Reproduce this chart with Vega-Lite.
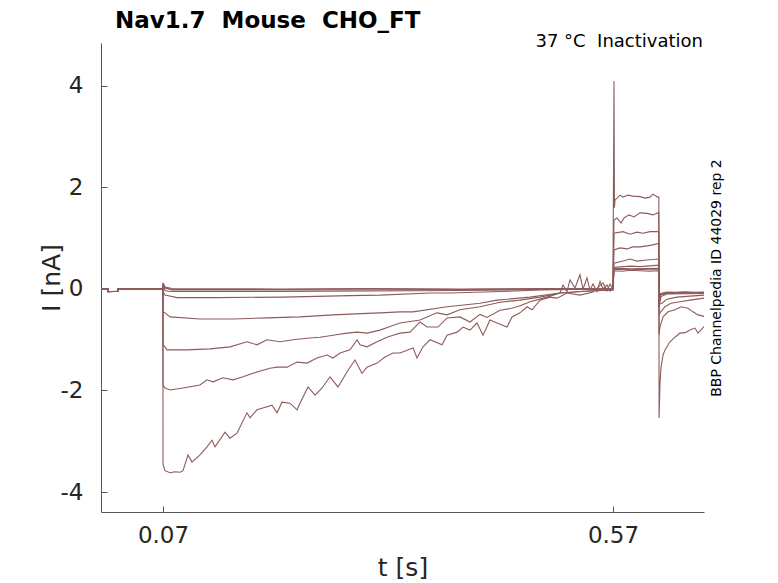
{
  "$schema": "https://vega.github.io/schema/vega-lite/v6.json",
  "width": 603,
  "height": 469,
  "autosize": {"type": "none"},
  "padding": {"left": 101, "top": 43, "right": 74, "bottom": 71},
  "background": "white",
  "config": {"view": {"stroke": null}, "font": "DejaVu Sans"},
  "title": {
    "text": "Nav1.7\u00a0 Mouse\u00a0 CHO_FT",
    "anchor": "start",
    "frame": "group",
    "font": "DejaVu Sans",
    "fontSize": 23,
    "fontWeight": "bold",
    "color": "black",
    "baseline": "alphabetic",
    "dx": 14,
    "offset": -18
  },
  "datasets": {
    "sweeps": [
      {"sweep": "A", "t": 0.0011, "I": 0}, {"sweep": "A", "t": 0.0088, "I": 0.01}, {"sweep": "A", "t": 0.0089, "I": -0.05}, {"sweep": "A", "t": 0.0199, "I": -0.05}, {"sweep": "A", "t": 0.02, "I": 0.01}, {"sweep": "A", "t": 0.0699, "I": 0},
      {"sweep": "A", "t": 0.07, "I": -3.45}, {"sweep": "A", "t": 0.0722, "I": -3.58}, {"sweep": "A", "t": 0.0778, "I": -3.62}, {"sweep": "A", "t": 0.0833, "I": -3.6},
      {"sweep": "A", "t": 0.0889, "I": -3.61}, {"sweep": "A", "t": 0.0922, "I": -3.58}, {"sweep": "A", "t": 0.0978, "I": -3.27}, {"sweep": "A", "t": 0.1022, "I": -3.41},
      {"sweep": "A", "t": 0.1111, "I": -3.27}, {"sweep": "A", "t": 0.1189, "I": -3.11}, {"sweep": "A", "t": 0.1244, "I": -2.98}, {"sweep": "A", "t": 0.1278, "I": -3.11},
      {"sweep": "A", "t": 0.1389, "I": -2.82}, {"sweep": "A", "t": 0.1444, "I": -2.94}, {"sweep": "A", "t": 0.1522, "I": -2.84}, {"sweep": "A", "t": 0.1633, "I": -2.44},
      {"sweep": "A", "t": 0.1667, "I": -2.54}, {"sweep": "A", "t": 0.1744, "I": -2.38}, {"sweep": "A", "t": 0.1856, "I": -2.32}, {"sweep": "A", "t": 0.1911, "I": -2.29},
      {"sweep": "A", "t": 0.1967, "I": -2.44}, {"sweep": "A", "t": 0.2022, "I": -2.23}, {"sweep": "A", "t": 0.2111, "I": -2.25}, {"sweep": "A", "t": 0.2189, "I": -2.38},
      {"sweep": "A", "t": 0.2222, "I": -2.25}, {"sweep": "A", "t": 0.2311, "I": -1.93}, {"sweep": "A", "t": 0.2389, "I": -2.09}, {"sweep": "A", "t": 0.2467, "I": -1.95},
      {"sweep": "A", "t": 0.2556, "I": -1.73}, {"sweep": "A", "t": 0.2644, "I": -1.93}, {"sweep": "A", "t": 0.2756, "I": -1.6}, {"sweep": "A", "t": 0.2833, "I": -1.4},
      {"sweep": "A", "t": 0.2911, "I": -1.66}, {"sweep": "A", "t": 0.2967, "I": -1.54}, {"sweep": "A", "t": 0.3078, "I": -1.46}, {"sweep": "A", "t": 0.3167, "I": -1.34},
      {"sweep": "A", "t": 0.3256, "I": -1.26}, {"sweep": "A", "t": 0.3333, "I": -1.26}, {"sweep": "A", "t": 0.3478, "I": -1.16}, {"sweep": "A", "t": 0.3522, "I": -1.36},
      {"sweep": "A", "t": 0.3589, "I": -1.14}, {"sweep": "A", "t": 0.3667, "I": -1.0}, {"sweep": "A", "t": 0.38, "I": -1.1}, {"sweep": "A", "t": 0.3856, "I": -0.91},
      {"sweep": "A", "t": 0.3967, "I": -0.85}, {"sweep": "A", "t": 0.4033, "I": -0.75}, {"sweep": "A", "t": 0.4111, "I": -0.81}, {"sweep": "A", "t": 0.4189, "I": -0.67},
      {"sweep": "A", "t": 0.4256, "I": -0.91}, {"sweep": "A", "t": 0.4333, "I": -0.61}, {"sweep": "A", "t": 0.4411, "I": -0.67}, {"sweep": "A", "t": 0.4522, "I": -0.75},
      {"sweep": "A", "t": 0.4578, "I": -0.55}, {"sweep": "A", "t": 0.4667, "I": -0.47}, {"sweep": "A", "t": 0.4744, "I": -0.35}, {"sweep": "A", "t": 0.48, "I": -0.41},
      {"sweep": "A", "t": 0.4889, "I": -0.22}, {"sweep": "A", "t": 0.5, "I": -0.16}, {"sweep": "A", "t": 0.5078, "I": -0.18}, {"sweep": "A", "t": 0.5189, "I": -0.08},
      {"sweep": "A", "t": 0.5333, "I": -0.12}, {"sweep": "A", "t": 0.5478, "I": -0.06}, {"sweep": "A", "t": 0.5589, "I": 0.12}, {"sweep": "A", "t": 0.5633, "I": -0.04},
      {"sweep": "A", "t": 0.5667, "I": 0.1}, {"sweep": "A", "t": 0.5699, "I": 0.0},
      {"sweep": "A", "t": 0.5711, "I": 0.36}, {"sweep": "A", "t": 0.58, "I": 0.35}, {"sweep": "A", "t": 0.59, "I": 0.37}, {"sweep": "A", "t": 0.6, "I": 0.36}, {"sweep": "A", "t": 0.61, "I": 0.35}, {"sweep": "A", "t": 0.6209, "I": 0.36},
      {"sweep": "A", "t": 0.6212, "I": -0.25}, {"sweep": "A", "t": 0.623, "I": -0.09}, {"sweep": "A", "t": 0.63, "I": -0.06}, {"sweep": "A", "t": 0.64, "I": -0.07}, {"sweep": "A", "t": 0.65, "I": -0.06}, {"sweep": "A", "t": 0.66, "I": -0.07}, {"sweep": "A", "t": 0.6711, "I": -0.06},

      {"sweep": "B", "t": 0.0011, "I": 0.01}, {"sweep": "B", "t": 0.0088, "I": 0}, {"sweep": "B", "t": 0.0089, "I": -0.06}, {"sweep": "B", "t": 0.0199, "I": -0.04}, {"sweep": "B", "t": 0.02, "I": 0}, {"sweep": "B", "t": 0.0699, "I": 0.01},
      {"sweep": "B", "t": 0.07, "I": -1.9}, {"sweep": "B", "t": 0.0722, "I": -1.95}, {"sweep": "B", "t": 0.0778, "I": -1.99}, {"sweep": "B", "t": 0.0922, "I": -1.95},
      {"sweep": "B", "t": 0.1111, "I": -1.89}, {"sweep": "B", "t": 0.1189, "I": -1.79}, {"sweep": "B", "t": 0.1256, "I": -1.83}, {"sweep": "B", "t": 0.1367, "I": -1.75},
      {"sweep": "B", "t": 0.1478, "I": -1.79}, {"sweep": "B", "t": 0.1589, "I": -1.73}, {"sweep": "B", "t": 0.17, "I": -1.66}, {"sweep": "B", "t": 0.1811, "I": -1.6},
      {"sweep": "B", "t": 0.1889, "I": -1.56}, {"sweep": "B", "t": 0.1967, "I": -1.54}, {"sweep": "B", "t": 0.2078, "I": -1.54}, {"sweep": "B", "t": 0.2189, "I": -1.44},
      {"sweep": "B", "t": 0.23, "I": -1.46}, {"sweep": "B", "t": 0.2411, "I": -1.36}, {"sweep": "B", "t": 0.2522, "I": -1.3}, {"sweep": "B", "t": 0.2589, "I": -1.36},
      {"sweep": "B", "t": 0.2667, "I": -1.26}, {"sweep": "B", "t": 0.2778, "I": -1.2}, {"sweep": "B", "t": 0.2856, "I": -1.0}, {"sweep": "B", "t": 0.2889, "I": -1.1},
      {"sweep": "B", "t": 0.2967, "I": -1.14}, {"sweep": "B", "t": 0.3078, "I": -1.04}, {"sweep": "B", "t": 0.3189, "I": -0.95}, {"sweep": "B", "t": 0.3256, "I": -0.91},
      {"sweep": "B", "t": 0.3333, "I": -0.87}, {"sweep": "B", "t": 0.3444, "I": -0.85}, {"sweep": "B", "t": 0.3556, "I": -0.65}, {"sweep": "B", "t": 0.3633, "I": -0.75},
      {"sweep": "B", "t": 0.3756, "I": -0.75}, {"sweep": "B", "t": 0.3856, "I": -0.57}, {"sweep": "B", "t": 0.4, "I": -0.55}, {"sweep": "B", "t": 0.4111, "I": -0.65},
      {"sweep": "B", "t": 0.4222, "I": -0.5}, {"sweep": "B", "t": 0.43, "I": -0.56}, {"sweep": "B", "t": 0.4444, "I": -0.42}, {"sweep": "B", "t": 0.4578, "I": -0.38},
      {"sweep": "B", "t": 0.4667, "I": -0.33}, {"sweep": "B", "t": 0.4778, "I": -0.25}, {"sweep": "B", "t": 0.4889, "I": -0.2}, {"sweep": "B", "t": 0.5, "I": -0.14},
      {"sweep": "B", "t": 0.5111, "I": -0.08}, {"sweep": "B", "t": 0.5144, "I": 0.08}, {"sweep": "B", "t": 0.5189, "I": -0.05}, {"sweep": "B", "t": 0.5222, "I": 0.18},
      {"sweep": "B", "t": 0.5278, "I": 0.02}, {"sweep": "B", "t": 0.5333, "I": 0.28}, {"sweep": "B", "t": 0.5367, "I": 0.0}, {"sweep": "B", "t": 0.5411, "I": 0.22},
      {"sweep": "B", "t": 0.5444, "I": -0.02}, {"sweep": "B", "t": 0.5478, "I": 0.1}, {"sweep": "B", "t": 0.5522, "I": -0.05}, {"sweep": "B", "t": 0.5556, "I": 0.15},
      {"sweep": "B", "t": 0.5589, "I": 0.0}, {"sweep": "B", "t": 0.5633, "I": 0.08}, {"sweep": "B", "t": 0.5667, "I": -0.04}, {"sweep": "B", "t": 0.5699, "I": 0.05},
      {"sweep": "B", "t": 0.5711, "I": 0.38}, {"sweep": "B", "t": 0.58, "I": 0.39}, {"sweep": "B", "t": 0.59, "I": 0.38}, {"sweep": "B", "t": 0.6, "I": 0.39}, {"sweep": "B", "t": 0.61, "I": 0.38}, {"sweep": "B", "t": 0.6209, "I": 0.38},
      {"sweep": "B", "t": 0.6212, "I": -0.3}, {"sweep": "B", "t": 0.623, "I": -0.1}, {"sweep": "B", "t": 0.63, "I": -0.07}, {"sweep": "B", "t": 0.65, "I": -0.06}, {"sweep": "B", "t": 0.6711, "I": -0.07},

      {"sweep": "C", "t": 0.0011, "I": 0}, {"sweep": "C", "t": 0.0088, "I": 0}, {"sweep": "C", "t": 0.0089, "I": -0.05}, {"sweep": "C", "t": 0.0199, "I": -0.05}, {"sweep": "C", "t": 0.02, "I": 0}, {"sweep": "C", "t": 0.0699, "I": 0},
      {"sweep": "C", "t": 0.07, "I": -1.1}, {"sweep": "C", "t": 0.0722, "I": -1.14}, {"sweep": "C", "t": 0.0744, "I": -1.2}, {"sweep": "C", "t": 0.0967, "I": -1.2},
      {"sweep": "C", "t": 0.1222, "I": -1.18}, {"sweep": "C", "t": 0.1444, "I": -1.14}, {"sweep": "C", "t": 0.1633, "I": -1.04}, {"sweep": "C", "t": 0.1744, "I": -1.1},
      {"sweep": "C", "t": 0.1856, "I": -1.0}, {"sweep": "C", "t": 0.2, "I": -1.04}, {"sweep": "C", "t": 0.2144, "I": -1.0}, {"sweep": "C", "t": 0.23, "I": -0.97},
      {"sweep": "C", "t": 0.2444, "I": -0.95}, {"sweep": "C", "t": 0.2589, "I": -0.91}, {"sweep": "C", "t": 0.2744, "I": -0.87}, {"sweep": "C", "t": 0.2856, "I": -0.85},
      {"sweep": "C", "t": 0.2967, "I": -0.87}, {"sweep": "C", "t": 0.3111, "I": -0.81}, {"sweep": "C", "t": 0.3222, "I": -0.74}, {"sweep": "C", "t": 0.3333, "I": -0.67},
      {"sweep": "C", "t": 0.3556, "I": -0.61}, {"sweep": "C", "t": 0.3744, "I": -0.47}, {"sweep": "C", "t": 0.3856, "I": -0.51}, {"sweep": "C", "t": 0.4, "I": -0.41},
      {"sweep": "C", "t": 0.4222, "I": -0.35}, {"sweep": "C", "t": 0.4444, "I": -0.26}, {"sweep": "C", "t": 0.4667, "I": -0.22}, {"sweep": "C", "t": 0.4889, "I": -0.16},
      {"sweep": "C", "t": 0.5111, "I": -0.08}, {"sweep": "C", "t": 0.5333, "I": -0.05}, {"sweep": "C", "t": 0.5556, "I": -0.03}, {"sweep": "C", "t": 0.5699, "I": -0.02},
      {"sweep": "C", "t": 0.5711, "I": 0.41}, {"sweep": "C", "t": 0.59, "I": 0.4}, {"sweep": "C", "t": 0.6209, "I": 0.41},
      {"sweep": "C", "t": 0.6212, "I": -0.28}, {"sweep": "C", "t": 0.623, "I": -0.11}, {"sweep": "C", "t": 0.63, "I": -0.08}, {"sweep": "C", "t": 0.6711, "I": -0.07},

      {"sweep": "D", "t": 0.0011, "I": 0}, {"sweep": "D", "t": 0.0088, "I": 0}, {"sweep": "D", "t": 0.0089, "I": -0.05}, {"sweep": "D", "t": 0.0199, "I": -0.05}, {"sweep": "D", "t": 0.02, "I": 0}, {"sweep": "D", "t": 0.0699, "I": 0},
      {"sweep": "D", "t": 0.07, "I": -0.45}, {"sweep": "D", "t": 0.0722, "I": -0.47}, {"sweep": "D", "t": 0.0778, "I": -0.55}, {"sweep": "D", "t": 0.1111, "I": -0.59},
      {"sweep": "D", "t": 0.1478, "I": -0.59}, {"sweep": "D", "t": 0.1856, "I": -0.57}, {"sweep": "D", "t": 0.2222, "I": -0.55}, {"sweep": "D", "t": 0.2589, "I": -0.51},
      {"sweep": "D", "t": 0.2967, "I": -0.48}, {"sweep": "D", "t": 0.3111, "I": -0.47}, {"sweep": "D", "t": 0.3333, "I": -0.45}, {"sweep": "D", "t": 0.3478, "I": -0.45},
      {"sweep": "D", "t": 0.3856, "I": -0.35}, {"sweep": "D", "t": 0.4222, "I": -0.28}, {"sweep": "D", "t": 0.4411, "I": -0.22}, {"sweep": "D", "t": 0.4778, "I": -0.16},
      {"sweep": "D", "t": 0.5111, "I": -0.08}, {"sweep": "D", "t": 0.5444, "I": -0.04}, {"sweep": "D", "t": 0.5699, "I": -0.02},
      {"sweep": "D", "t": 0.5711, "I": 0.43}, {"sweep": "D", "t": 0.59, "I": 0.45}, {"sweep": "D", "t": 0.6, "I": 0.44}, {"sweep": "D", "t": 0.6209, "I": 0.47},
      {"sweep": "D", "t": 0.6212, "I": -0.3}, {"sweep": "D", "t": 0.623, "I": -0.12}, {"sweep": "D", "t": 0.63, "I": -0.09}, {"sweep": "D", "t": 0.6711, "I": -0.08},

      {"sweep": "E", "t": 0.0011, "I": 0}, {"sweep": "E", "t": 0.0088, "I": 0}, {"sweep": "E", "t": 0.0089, "I": -0.05}, {"sweep": "E", "t": 0.0199, "I": -0.05}, {"sweep": "E", "t": 0.02, "I": 0}, {"sweep": "E", "t": 0.0699, "I": 0},
      {"sweep": "E", "t": 0.0701, "I": -0.05}, {"sweep": "E", "t": 0.0722, "I": -0.12}, {"sweep": "E", "t": 0.0856, "I": -0.17}, {"sweep": "E", "t": 0.13, "I": -0.17},
      {"sweep": "E", "t": 0.2033, "I": -0.16}, {"sweep": "E", "t": 0.2778, "I": -0.13}, {"sweep": "E", "t": 0.3111, "I": -0.12}, {"sweep": "E", "t": 0.3667, "I": -0.08},
      {"sweep": "E", "t": 0.3889, "I": -0.08}, {"sweep": "E", "t": 0.4444, "I": -0.05}, {"sweep": "E", "t": 0.4889, "I": -0.02}, {"sweep": "E", "t": 0.5556, "I": 0.0}, {"sweep": "E", "t": 0.5699, "I": 0.0},
      {"sweep": "E", "t": 0.5711, "I": 0.51}, {"sweep": "E", "t": 0.5811, "I": 0.55}, {"sweep": "E", "t": 0.5889, "I": 0.59}, {"sweep": "E", "t": 0.5967, "I": 0.55}, {"sweep": "E", "t": 0.6078, "I": 0.57}, {"sweep": "E", "t": 0.6209, "I": 0.59},
      {"sweep": "E", "t": 0.6212, "I": -0.35}, {"sweep": "E", "t": 0.6233, "I": -0.15}, {"sweep": "E", "t": 0.63, "I": -0.1}, {"sweep": "E", "t": 0.6711, "I": -0.09},

      {"sweep": "F", "t": 0.0011, "I": 0}, {"sweep": "F", "t": 0.0088, "I": 0}, {"sweep": "F", "t": 0.0089, "I": -0.05}, {"sweep": "F", "t": 0.0199, "I": -0.05}, {"sweep": "F", "t": 0.02, "I": 0}, {"sweep": "F", "t": 0.0699, "I": 0},
      {"sweep": "F", "t": 0.0701, "I": 0.08}, {"sweep": "F", "t": 0.0722, "I": -0.03}, {"sweep": "F", "t": 0.0778, "I": -0.05}, {"sweep": "F", "t": 0.2, "I": -0.05},
      {"sweep": "F", "t": 0.3, "I": -0.04}, {"sweep": "F", "t": 0.4, "I": -0.03}, {"sweep": "F", "t": 0.5, "I": -0.01}, {"sweep": "F", "t": 0.5699, "I": 0.0},
      {"sweep": "F", "t": 0.5711, "I": 0.77}, {"sweep": "F", "t": 0.5778, "I": 0.81}, {"sweep": "F", "t": 0.5856, "I": 0.79}, {"sweep": "F", "t": 0.5922, "I": 0.83},
      {"sweep": "F", "t": 0.6, "I": 0.83}, {"sweep": "F", "t": 0.6078, "I": 0.85}, {"sweep": "F", "t": 0.6144, "I": 0.87}, {"sweep": "F", "t": 0.6209, "I": 0.9},
      {"sweep": "F", "t": 0.6212, "I": -0.3}, {"sweep": "F", "t": 0.6244, "I": -0.28}, {"sweep": "F", "t": 0.63, "I": -0.2}, {"sweep": "F", "t": 0.6411, "I": -0.16}, {"sweep": "F", "t": 0.6556, "I": -0.14}, {"sweep": "F", "t": 0.6711, "I": -0.12},

      {"sweep": "G", "t": 0.0011, "I": 0}, {"sweep": "G", "t": 0.0088, "I": 0}, {"sweep": "G", "t": 0.0089, "I": -0.05}, {"sweep": "G", "t": 0.0199, "I": -0.05}, {"sweep": "G", "t": 0.02, "I": 0}, {"sweep": "G", "t": 0.0699, "I": 0},
      {"sweep": "G", "t": 0.0701, "I": 0.1}, {"sweep": "G", "t": 0.0722, "I": 0.04}, {"sweep": "G", "t": 0.08, "I": 0.01}, {"sweep": "G", "t": 0.2, "I": 0.0},
      {"sweep": "G", "t": 0.3, "I": 0.01}, {"sweep": "G", "t": 0.4, "I": 0.0}, {"sweep": "G", "t": 0.5, "I": 0.01}, {"sweep": "G", "t": 0.5699, "I": 0.0},
      {"sweep": "G", "t": 0.5711, "I": 4.1}, {"sweep": "G", "t": 0.5716, "I": 1.6}, {"sweep": "G", "t": 0.5722, "I": 1.75}, {"sweep": "G", "t": 0.5778, "I": 1.85},
      {"sweep": "G", "t": 0.5811, "I": 1.81}, {"sweep": "G", "t": 0.5867, "I": 1.85}, {"sweep": "G", "t": 0.5922, "I": 1.83}, {"sweep": "G", "t": 0.6, "I": 1.82},
      {"sweep": "G", "t": 0.6056, "I": 1.79}, {"sweep": "G", "t": 0.6111, "I": 1.81}, {"sweep": "G", "t": 0.6144, "I": 1.87}, {"sweep": "G", "t": 0.6189, "I": 1.82}, {"sweep": "G", "t": 0.6209, "I": 1.81},
      {"sweep": "G", "t": 0.6212, "I": -2.54}, {"sweep": "G", "t": 0.6222, "I": -1.85}, {"sweep": "G", "t": 0.6233, "I": -1.55}, {"sweep": "G", "t": 0.6256, "I": -1.3},
      {"sweep": "G", "t": 0.6278, "I": -1.2}, {"sweep": "G", "t": 0.6333, "I": -1.04}, {"sweep": "G", "t": 0.6389, "I": -0.95}, {"sweep": "G", "t": 0.6444, "I": -0.87},
      {"sweep": "G", "t": 0.65, "I": -0.86}, {"sweep": "G", "t": 0.6556, "I": -0.81}, {"sweep": "G", "t": 0.6611, "I": -0.77}, {"sweep": "G", "t": 0.6644, "I": -0.87}, {"sweep": "G", "t": 0.6711, "I": -0.74},

      {"sweep": "H", "t": 0.0011, "I": 0}, {"sweep": "H", "t": 0.0088, "I": 0}, {"sweep": "H", "t": 0.0089, "I": -0.05}, {"sweep": "H", "t": 0.0199, "I": -0.05}, {"sweep": "H", "t": 0.02, "I": 0}, {"sweep": "H", "t": 0.0699, "I": 0},
      {"sweep": "H", "t": 0.0701, "I": 0.1}, {"sweep": "H", "t": 0.0722, "I": 0.02}, {"sweep": "H", "t": 0.08, "I": -0.02}, {"sweep": "H", "t": 0.2, "I": -0.02},
      {"sweep": "H", "t": 0.3, "I": -0.02}, {"sweep": "H", "t": 0.4, "I": -0.01}, {"sweep": "H", "t": 0.5, "I": 0.0}, {"sweep": "H", "t": 0.5699, "I": 0.01},
      {"sweep": "H", "t": 0.5711, "I": 1.1}, {"sweep": "H", "t": 0.5811, "I": 1.13}, {"sweep": "H", "t": 0.5889, "I": 1.08}, {"sweep": "H", "t": 0.5967, "I": 1.12},
      {"sweep": "H", "t": 0.6033, "I": 1.1}, {"sweep": "H", "t": 0.6111, "I": 1.13}, {"sweep": "H", "t": 0.62, "I": 1.13}, {"sweep": "H", "t": 0.6209, "I": 1.12},
      {"sweep": "H", "t": 0.6212, "I": -0.5}, {"sweep": "H", "t": 0.6222, "I": -0.47}, {"sweep": "H", "t": 0.6278, "I": -0.35}, {"sweep": "H", "t": 0.6344, "I": -0.28},
      {"sweep": "H", "t": 0.6444, "I": -0.25}, {"sweep": "H", "t": 0.6556, "I": -0.22}, {"sweep": "H", "t": 0.6711, "I": -0.18},

      {"sweep": "I", "t": 0.0011, "I": 0}, {"sweep": "I", "t": 0.0088, "I": 0}, {"sweep": "I", "t": 0.0089, "I": -0.05}, {"sweep": "I", "t": 0.0199, "I": -0.05}, {"sweep": "I", "t": 0.02, "I": 0}, {"sweep": "I", "t": 0.0699, "I": 0},
      {"sweep": "I", "t": 0.0701, "I": 0.12}, {"sweep": "I", "t": 0.0722, "I": 0.03}, {"sweep": "I", "t": 0.08, "I": -0.01}, {"sweep": "I", "t": 0.2, "I": -0.01},
      {"sweep": "I", "t": 0.3, "I": 0.0}, {"sweep": "I", "t": 0.4, "I": -0.01}, {"sweep": "I", "t": 0.5, "I": 0.0}, {"sweep": "I", "t": 0.5699, "I": 0.0},
      {"sweep": "I", "t": 0.5711, "I": 1.36}, {"sweep": "I", "t": 0.5744, "I": 1.4}, {"sweep": "I", "t": 0.5789, "I": 1.3}, {"sweep": "I", "t": 0.5822, "I": 1.4},
      {"sweep": "I", "t": 0.5878, "I": 1.46}, {"sweep": "I", "t": 0.5933, "I": 1.42}, {"sweep": "I", "t": 0.6, "I": 1.5}, {"sweep": "I", "t": 0.6078, "I": 1.49},
      {"sweep": "I", "t": 0.6144, "I": 1.46}, {"sweep": "I", "t": 0.62, "I": 1.5}, {"sweep": "I", "t": 0.6209, "I": 1.5},
      {"sweep": "I", "t": 0.6212, "I": -0.9}, {"sweep": "I", "t": 0.6222, "I": -0.74}, {"sweep": "I", "t": 0.6256, "I": -0.55}, {"sweep": "I", "t": 0.6311, "I": -0.45},
      {"sweep": "I", "t": 0.6389, "I": -0.41}, {"sweep": "I", "t": 0.6456, "I": -0.35}, {"sweep": "I", "t": 0.6533, "I": -0.38}, {"sweep": "I", "t": 0.6589, "I": -0.45},
      {"sweep": "I", "t": 0.6644, "I": -0.51}, {"sweep": "I", "t": 0.6711, "I": -0.54}
    ],
    "notes": [
      {"t": 0.6711, "I": 4.847, "label": "37 °C\u00a0 Inactivation"}
    ]
  },
  "layer": [
    {
      "data": {"name": "sweeps"},
      "mark": {"type": "line", "color": "#8e5b5b", "strokeWidth": 1.1},
      "encoding": {
        "x": {
          "field": "t",
          "type": "quantitative",
          "scale": {"domain": [0.0011, 0.6711], "nice": false, "zero": false},
          "axis": {
            "title": "t [s]",
            "values": [0.07, 0.57],
            "format": ".2f",
            "grid": false,
            "tickSize": -6,
            "tickColor": "#555555",
            "domainColor": "#555555",
            "labelFont": "DejaVu Sans",
            "labelFontSize": 23,
            "labelColor": "#262626",
            "labelPadding": 18,
            "titleFont": "DejaVu Sans",
            "titleFontSize": 25,
            "titleFontWeight": "normal",
            "titleColor": "#262626",
            "titleBaseline": "alphabetic",
            "titlePadding": 28
          }
        },
        "y": {
          "field": "I",
          "type": "quantitative",
          "scale": {"domain": [-4.394, 4.847], "nice": false, "zero": false},
          "axis": {
            "title": "I [nA]",
            "values": [-4, -2, 0, 2, 4],
            "labelExpr": "'' + datum.value",
            "grid": false,
            "tickSize": -6,
            "tickColor": "#555555",
            "domainColor": "#555555",
            "labelFont": "DejaVu Sans",
            "labelFontSize": 23,
            "labelColor": "#262626",
            "labelPadding": 24,
            "titleFont": "DejaVu Sans",
            "titleFontSize": 25,
            "titleFontWeight": "normal",
            "titleColor": "#262626",
            "titleBaseline": "alphabetic",
            "titlePadding": 1
          }
        },
        "detail": {"field": "sweep"}
      }
    },
    {
      "data": {"name": "notes"},
      "mark": {"type": "text", "align": "right", "baseline": "alphabetic", "dy": 4, "dx": -1, "font": "DejaVu Sans", "fontSize": 18, "color": "black"},
      "encoding": {
        "x": {"field": "t", "type": "quantitative"},
        "y": {
          "field": "I",
          "type": "quantitative",
          "axis": {
            "orient": "right",
            "title": "BBP Channelpedia ID 44029 rep 2",
            "titleAngle": 270,
            "titleFont": "DejaVu Sans",
            "titleFontSize": 14,
            "titleFontWeight": "normal",
            "titleColor": "black",
            "titleBaseline": "alphabetic",
            "titlePadding": 16,
            "domain": false,
            "ticks": false,
            "labels": false,
            "grid": false
          }
        },
        "text": {"field": "label"}
      }
    }
  ],
  "resolve": {"axis": {"y": "independent"}}
}
